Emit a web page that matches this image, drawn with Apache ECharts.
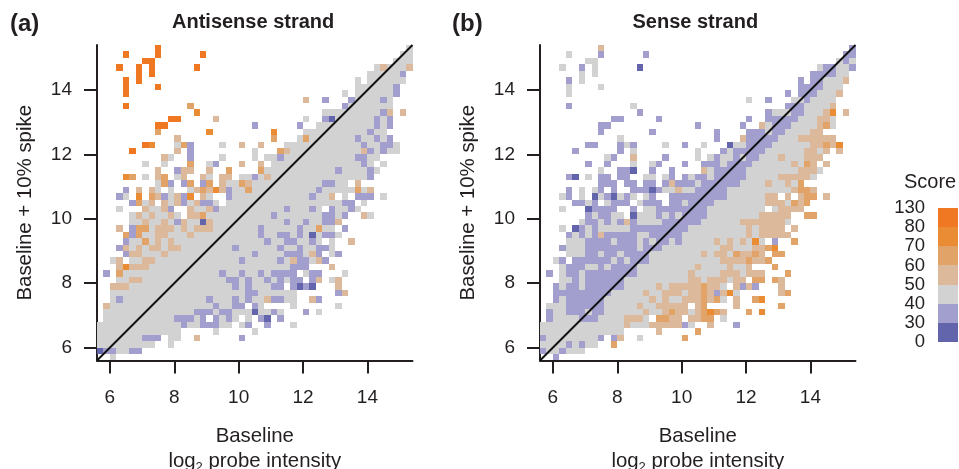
<!DOCTYPE html>
<html>
<head>
<meta charset="utf-8">
<style>html,body{margin:0;padding:0;background:#fff}#c{width:959px;height:469px}</style>
<script src="https://cdn.jsdelivr.net/npm/echarts@6/dist/echarts.min.js"></script>
</head>
<body>
<div id="c"></div>
<script>
// Each row (top to bottom) lists bins as "col:band" or "from-to:band"; later tokens override; band 0 = no cell.
const rowsAntisense = [
"9:7 48:3","4:7 9:7 16:7 47-48:3","7-8:7 46-48:3","3:7 6:7 8:7 15:7 43:3 44:4 45-47:3 48:4",
"6:7 8:7 42-46:3 47:2","4:7 6:7 40:3 42-47:3","4:7 9:7 40-45:3 46:2","4:7 38:3 40-45:3 46:2",
"32:4 35:2 39:2 40-43:3 44:2 45:3","4:7 14:5 38:2 39-45:3","15:6 35-45:3 44:2 45:4 47:4",
"11-12:7 18:4 32:3 35:2 36:1 37-44:3 43:2 45:2","9-10:7 24:2 31:2 34-44:3 43:2 45:2",
"9:5 17:6 27:6 32-44:3 42:2","12:4 27:5 31:3 32:5 33-45:3 40:2 43:2 45:2",
"7:7 8:6 12:3 13:5 14:2 19:3 22:4 25:4 29-46:3 41:2 44-45:2",
"5:7 12:4 14:2 24:3 28:5 29:4 30-46:3 41:4 42:2 44:2",
"10:4 11:3 14:2 19:3 24:3 26-27:3 28:2 29-43:3 40-41:2",
"7:3 10:3 14:5 17:3 18:2 22:4 25:4 27-42:3 41:2 44:3",
"9:4 12:2 13-14:4 17:4 20:5 25:5 26-43:3 37:2 42:2",
"4:6 5:5 7:3 9:4 10:5 12:3 13:4 16:4 17:3 19-20:4 22-23:3 24:2 25:3 26:4 27-42:3 42:2",
"9:3 10:5 11:2 13:2 14:5 16:2 17:5 19:4 20-21:3 22:5 23:4 24-38:3 35-36:2 40:4",
"4:2 6:4 8:4 9:3 11:3 14:3 15:4 16:5 17:4 18:6 19:4 20:2 21-22:3 23:5 24-42:3 34:2 40:5 42:4",
"3:2 4:3 6:6 8:5 9:4 10:2 11:3 12:4 13:2 14:6 16:4 17:3 20:2 21-35:3 33:2 36:4 38:3 40-42:2 44:3",
"5:2 6:5 7:3 8:4 10:4 11:3 12:4 13:2 14:3 15:4 16-17:2 18:3 20-37:3 38-39:2 41:3",
"3:3 7:4 8-9:3 10:4 11:2 14:4 15-16:3 17:4 18:2 19-34:3 29:2 33:2 36:2 37-38:3 39:2 40:3",
"5:3 6:4 7:3 8:4 9-10:3 11:4 12:3 14-15:4 16:5 17-34:3 27:2 35-36:2 37:3 38:2 41:4 42:3",
"5-6:3 7:4 8-9:3 10:4 11:3 12:2 13:4 14-15:3 16:1 17:4 18-34:3 29:2 32:2 35-36:2 37:4",
"3:4 5:2 6-7:5 8:3 9-11:4 12:3 13:4 14:3 15-17:4 18-34:3 25:2 31:2 34:5 35-36:3 38:2",
"4:5 5:2 6:5 7-8:3 9-10:4 11-13:3 14:4 15-37:3 25:2 28-29:2 31:2 33:1 35-36:2",
"4:2 5-6:3 7:5 8:3 9:4 10:3 11:4 12-34:3 26:2 29-30:2 33:2 36:3 39:4",
"3:2 4:4 5:3 6:4 7:3 8-9:4 10:3 11-12:4 13-33:3 21:2 28:2 31:2 34-35:2 36:3",
"4:2 5-6:4 7-9:3 10:4 11-32:3 24:2 29-31:2 33:4 34:2 36:3 37:2",
"2:3 3:4 5-6:3 7-8:4 9-33:3 22:2 28:2 30:4 31-32:2 34:4 35:2",
"3:4 4:6 5-7:4 8-32:3 30-32:2 36:4",
"1:2 3:5 4-30:3 19:2 22:2 25:2 27-30:2 32:3 33-34:2 38:3",
"3-4:3 5-6:4 7-31:3 20-21:2 23:2 26:2 28:2 30-31:2 33:2 34:4 36:3 37:4",
"2-4:4 5-28:3 21:2 23:2 27-28:2 30:2 31:1 32:2 33:1 37:4",
"2-30:3 23-24:2 37:2 38:4",
"2:3 3:2 4-30:3 17:2 21:2 23:2 26:4 27-28:2 33:4 34:2",
"1:4 2-25:3 18:2 21-22:2 23:0 24:2 30:3 37:3",
"1-28:3 15-17:2 19-20:2 24:1 27:2 32:2 34:3",
"1-25:3 12-14:2 16:2 17:0 18:2 20:2 22:0 24:0 25:2 26:1 28:2",
"0-22:3 13:2 16-18:2 21:0 23:2 26:2 30:3",
"0-12:3 18:3 24:3",
"0-6:3 7-9:2 11-12:3 15:4 22:2",
"0-8:3 11:3",
"0:1 1-2:2 3-4:3 5-6:2",
"2:3"
];
const rowsSense = [
"9:4 48:2","4:3 9:2 16:2 47-48:2","7-8:3 46:3 47:2 48:3","3:3 6:2 8:3 15:1 43:3 44-45:2 46-47:3 48:2",
"6:3 8:3 42-45:2 46-47:3","4:2 6:3 40:2 42-43:2 44-46:3 47:4","4:3 9:3 40-43:2 44-46:3",
"4:3 38:2 40-42:2 43-45:3 46:4","32:3 35:2 39-40:3 41:2 42-45:3","4:2 14:3 38-40:2 41-44:3 45:4",
"15:2 35:2 36-38:3 39-40:2 41-43:3 44:4 45:6 47:4","11-12:2 18:2 32:2 35-39:2 40-42:3 43-44:4 45:3",
"9-10:2 24:2 31:2 34:4 35:3 36-38:2 39-42:3 43:4 44:5 45:3",
"9:2 17:2 27:2 32-34:2 35:3 36-37:2 38-41:3 42-43:4",
"12:3 27:2 31:4 32-36:2 37-39:3 40-45:4",
"7-8:2 12:2 13:3 14:2 19:3 22:2 25:3 29:1 30-31:3 32-35:2 36-41:3 42-43:4 44:5 45:4 46:6",
"5:2 12:2 14:3 24:3 28:2 29:3 30-34:2 35-40:3 41-42:4 43:3 44:4 46:4",
"10:3 11:2 14:4 19:2 24:3 26:3 27:2 28-29:3 30:2 31:3 32-33:2 34-40:3 37:4 41-43:4",
"7:2 10:2 14:3 17:3 18:2 22:2 25-27:2 28:3 29-32:2 33-40:3 39:4 41:5 42:4 44:4",
"9:3 12-13:2 14:1 17:2 20:2 25:4 26:3 27-31:2 32-39:3 40-42:4 43:3",
"4:2 5:1 7:3 9-10:2 12-13:2 16-17:3 19:3 20:2 22:2 23:3 24-25:2 26:3 27-31:2 32-36:3 37-41:4 42:3",
"9-11:2 13-14:2 16-17:2 19:2 20:4 21-23:2 24:3 25-30:2 31-39:3 35:4 38:4 40:5",
"4:2 6:3 8:3 9:2 11:2 14-16:2 17:1 18:2 19-20:3 21:4 22-23:3 24-28:2 29-38:3 39:4 40-41:5 42:4",
"3:3 4:2 6:3 8:1 9:3 10:2 11:1 12:3 13:2 14:3 16:3 17:2 20-28:2 29-34:3 35-36:4 38:4 40:4 41-42:5 44:4",
"5-6:2 7:3 8:2 10:3 11-13:2 15:3 16-18:2 20-21:2 22:3 23-26:2 27-34:3 35-37:4 38:3 39:5 40:4 41:5",
"3:3 7:1 8-11:2 14:2 16-17:3 18-25:2 26-34:3 36:3 37-40:4",
"7:2 8:3 9-10:2 11-12:3 14:1 15-17:3 18:2 19:3 20:2 21:3 22-25:2 26-33:3 34-38:4 41-42:5",
"6:3 7-8:2 9:3 10:2 11:3 12:2 13:4 14:2 15-18:3 19-24:2 25-30:3 31-37:4 38:3",
"3:3 5:1 6:2 7:3 8:2 9-13:3 14-22:2 23-31:3 32:4 33:3 34-37:4 39:4",
"4:2 5:3 6:2 7:3 8:2 9:4 10-14:2 15-16:3 17-21:2 22-31:3 32:4 33:3 34-38:4",
"4-6:3 7-10:2 11:3 12-14:2 15:3 16:2 17:3 18-19:2 20:3 21:2 22-26:3 27:4 28:3 29:4 30:3 31:4 32:3 33:6 34:3 36:2 39:5",
"3:2 4-6:3 7-14:2 15:3 16-18:2 19-27:3 28-29:4 30-32:3 33-34:4 35:5 36:6",
"4-6:3 7-8:2 9:3 10-11:2 12:3 13-16:2 17-24:3 25:4 26:3 27-28:4 29:3 30:5 31-32:4 33:5 34:4 36-37:5",
"2:3 3:2 5-10:2 11:3 12:2 13:3 14-16:2 17-27:3 28-31:4 32:5 33-34:4 35:5",
"3:3 4-6:2 7-8:3 9:2 10:3 11-14:2 15-23:3 24:4 25-28:3 29:4 30-31:3 32:4 36:5",
"1:2 3:3 4-5:2 6:3 7-14:2 15-22:3 23:4 24-27:3 28-30:4 31:3 32-34:4 38:5",
"3-4:3 5:2 6:3 7-12:2 13-22:3 23-24:4 25:3 26-28:4 29:3 30-31:4 33-34:5 36:5 37:4",
"2:2 3:3 4-5:2 6:3 7-12:2 13-19:3 18:4 20-24:4 25:5 26-27:4 28:3 30:4 31:2 32:4 33:2 37:4",
"2-10:2 11-21:3 16:4 19-21:4 22:3 23-24:4 25:5 26:4 27:2 28:4 29:6 30:3 37:4 38:5",
"2:2 3:3 4-9:2 10-22:3 17:4 19:4 22-24:4 25:5 26:4 27:5 28:3 30:4 33:5 34:6",
"1-3:3 4-9:2 10-22:3 15:4 18-22:4 24:4 25:5 30:4 37:5",
"1:2 2-3:3 4-6:2 7:3 8-9:2 10-23:3 16:4 19:4 20:5 21-22:4 24:4 25:5 26:6 27:5 28:4 32:5 34:6",
"1:2 2-5:3 6-8:2 9-16:3 13-15:4 18-19:5 20-21:4 23-24:4 25-26:5 28:3",
"0-21:3 13:4 17-21:4 22:2 23:3 26:4 30:2",
"0-12:3 18:4 24:5",
"0:2 1-8:3 9:2 11:2 12:4 15:3 22:5",
"0-3:3 4:2 5:3 6:2 7-8:3 11:5",
"0:2 1-2:3 3:2 4-6:3",
"2:2"
];
const bandLabels = ['0','30','40','50','60','70','80','130'];
const bandScores = [15,35,45,55,65,75,105];
const bandColors = ['#6264ac','#a29fcf','#d2d2d2','#dcb99b','#e2a368','#e98c34','#f07823'];
const tickValues = [6,8,10,12,14];
const axisRange = [5.6,15.4];
const binSize = 0.2;
const diagonal = [[5.6,5.6],[15.4,15.4]];

function decode(rows){
  const out=[];
  rows.forEach((row,r)=>{
    const cells={};
    row.split(' ').forEach(tok=>{
      const [span,band]=tok.split(':');
      const [a,b]=span.split('-').map(Number);
      for(let c=a;c<=(b===undefined?a:b);c++) cells[c]=+band;
    });
    Object.keys(cells).forEach(c=>{
      if(cells[c]>0) out.push([axisRange[0]+binSize*(+c), axisRange[1]-binSize*(r+1), bandScores[cells[c]-1]]);
    });
  });
  return out;
}
function colorOf(score){ return bandColors[bandScores.indexOf(score)]; }
function renderCell(params,api){
  const x=api.value(0), y=api.value(1);
  const p0=api.coord([x,y+binSize]), p1=api.coord([x+binSize,y]);
  const x0=Math.round(p0[0]), y0=Math.round(p0[1]), x1=Math.round(p1[0]), y1=Math.round(p1[1]);
  return {type:'rect',shape:{x:x0,y:y0,width:x1-x0,height:y1-y0},style:{fill:colorOf(api.value(2))}};
}
function renderLegend(params,api){
  const i=api.value(0);
  const p0=api.coord([0,i+1]), p1=api.coord([1,i]);
  return {type:'rect',shape:{x:p0[0],y:Math.round(p0[1]),width:p1[0]-p0[0],height:Math.round(p1[1])-Math.round(p0[1])},style:{fill:bandColors[i]}};
}
const ink='#231f20', FF='"Liberation Sans",Arial,sans-serif';
const axisCommon={
  type:'value',min:axisRange[0],max:axisRange[1],splitLine:{show:false},
  axisLine:{show:true,onZero:false,lineStyle:{color:ink,width:2}},
  axisTick:{show:true,length:13,customValues:tickValues,lineStyle:{color:ink,width:2}},
  axisLabel:{customValues:tickValues,color:ink,fontSize:19,fontFamily:FF,showMinLabel:true,showMaxLabel:true},
  nameLocation:'middle',
  nameTextStyle:{color:ink,fontSize:20.4,fontFamily:FF}
};
function xAxisFor(i){return Object.assign({},axisCommon,{gridIndex:i,
  axisLabel:Object.assign({},axisCommon.axisLabel,{margin:28}),
  name:'Baseline\nlog{s|2} probe intensity',nameGap:63,
  nameTextStyle:{color:ink,fontSize:20.4,fontFamily:FF,lineHeight:25,verticalAlign:'top',
    rich:{s:{fontSize:13,fontFamily:FF,color:ink,verticalAlign:'bottom',lineHeight:18,padding:[8,0,0,0]}}}
});}
function yAxisFor(i){return Object.assign({},axisCommon,{gridIndex:i,
  axisLabel:Object.assign({},axisCommon.axisLabel,{margin:25}),
  name:'Baseline + 10% spike',nameGap:62});}
const legendData=bandScores.map((s,i)=>[i,s]);
const chart=echarts.init(document.getElementById('c'),null,{renderer:'canvas'});
const titleRich={p:{fontSize:24,fontFamily:FF,color:ink},b:{fontSize:24,fontFamily:FF,fontWeight:'bold',color:ink}};
chart.setOption({
  animation:false,backgroundColor:'#fff',
  title:[
    {text:'{p|(}{b|a}{p|)}',left:10,top:12,padding:0,textStyle:{rich:titleRich}},
    {text:'{p|(}{b|b}{p|)}',left:452,top:12,padding:0,textStyle:{rich:titleRich}},
    {text:'Antisense strand',left:172,top:12,padding:0,textStyle:{fontSize:20,fontWeight:'bold',fontFamily:FF,color:ink}},
    {text:'Sense strand',left:632.5,top:12,padding:0,textStyle:{fontSize:20,fontWeight:'bold',fontFamily:FF,color:ink}},
    {text:'Score',left:904,top:172,padding:0,textStyle:{fontSize:20,fontWeight:'normal',fontFamily:FF,color:ink}}
  ],
  grid:[
    {left:97,top:45,width:315.5,height:315.5,outerBoundsMode:'none'},
    {left:540,top:45,width:315.5,height:315.5,outerBoundsMode:'none'},
    {left:938,top:208,width:20,height:134,outerBoundsMode:'none'}
  ],
  xAxis:[xAxisFor(0),xAxisFor(1),{type:'value',gridIndex:2,min:0,max:1,show:false}],
  yAxis:[yAxisFor(0),yAxisFor(1),{type:'value',gridIndex:2,min:0,max:7,interval:1,
    axisLine:{show:false},axisTick:{show:false},splitLine:{show:false},
    axisLabel:{color:ink,fontSize:18.5,fontFamily:FF,margin:13,formatter:v=>bandLabels[v]}}],
  series:[
    {type:'custom',name:'Antisense strand',xAxisIndex:0,yAxisIndex:0,renderItem:renderCell,data:decode(rowsAntisense),encode:{x:0,y:1},silent:true},
    {type:'line',xAxisIndex:0,yAxisIndex:0,data:diagonal,symbol:'none',silent:true,z:5,lineStyle:{color:'#111',width:2}},
    {type:'custom',name:'Sense strand',xAxisIndex:1,yAxisIndex:1,renderItem:renderCell,data:decode(rowsSense),encode:{x:0,y:1},silent:true},
    {type:'line',xAxisIndex:1,yAxisIndex:1,data:diagonal,symbol:'none',silent:true,z:5,lineStyle:{color:'#111',width:2}},
    {type:'custom',name:'Score',xAxisIndex:2,yAxisIndex:2,renderItem:renderLegend,data:legendData,silent:true}
  ]
});
</script>
</body>
</html>
